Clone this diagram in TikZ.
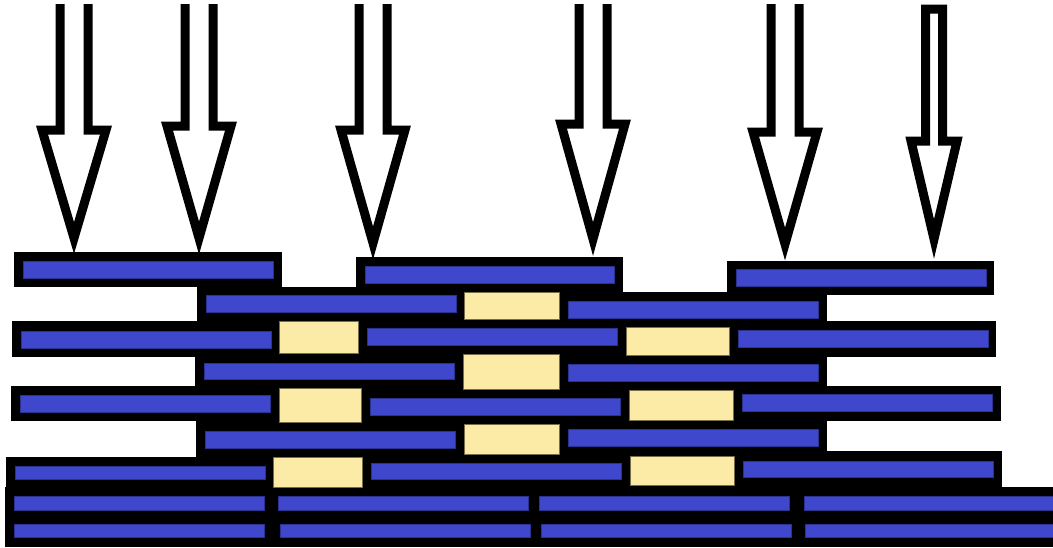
\documentclass[tikz,border=0pt]{standalone}
\usepackage{tikz}
\definecolor{barblue}{RGB}{63,72,204}
\definecolor{padyellow}{RGB}{252,235,166}
\definecolor{padedge}{RGB}{120,110,70}

\begin{document}
\begin{tikzpicture}[
  x=0.75pt, y=-0.75pt,
  frame/.style={fill=black},
  bar/.style={fill=barblue, draw=barblue!70!black, line width=0.3pt},
  pad/.style={fill=padyellow, draw=padedge, line width=0.4pt},
  hollow/.style={draw=black, line width=6.75pt, fill=white, line join=miter}
]
  \useasboundingbox (0,0) rectangle (1053,547);

  % black layers
  \fill[frame] (14,252) rectangle (282,287);
  \fill[frame] (356,257) rectangle (623,292);
  \fill[frame] (727,261) rectangle (994,295);
  \fill[frame] (197,287) rectangle (623,321);
  \fill[frame] (623,292) rectangle (827,321);
  \fill[frame] (12,321) rectangle (996,357);
  \fill[frame] (195,357) rectangle (827,386);
  \fill[frame] (11,386) rectangle (1001,421);
  \fill[frame] (196,421) rectangle (827,457);
  \fill[frame] (827,451) rectangle (1002,457);
  \fill[frame] (6,457) rectangle (1002,487);
  \fill[frame] (5,487) rectangle (1053,547);

  % blue bars
  \foreach \xa/\ya/\xb/\yb in {
      23/261/273/278, 365/266/614/283, 736/269/986/286,
      206/295/456/312, 568/301/818/318,
      21/331/271/348, 367/328/617/345, 738/330/988/347,
      204/363/454/379, 568/364/818/381,
      20/395/270/412, 370/398/620/415, 742/394/992/411,
      205/431/455/448, 568/429/818/446,
      15/466/265/479, 371/463/621/479, 743/461/993/477,
      14/496/264/510, 278/496/528/510, 539/496/789/510, 804/496/1053/510,
      14/524/264/537, 280/524/530/537, 541/524/791/537, 805/524/1053/537}
    \draw[bar] (\xa,\ya) rectangle (\xb,\yb);

  % yellow spacers
  \foreach \xa/\ya/\xb/\yb in {
      464/292/559/319,
      279/321/358/353, 626/327/729/355,
      463/354/559/389,
      279/388/361/422, 629/390/733/420,
      464/424/559/454,
      273/457/362/487, 630/456/734/485}
    \draw[pad] (\xa,\ya) rectangle (\xb,\yb);

  % incoming arrows
  \foreach \cx/\sy/\ty in {74/130/238, 199/126/238, 373/130/243, 593/124/239, 785/132/244}
    \draw[hollow] ({\cx-14},4) -- ({\cx-14},\sy) -- ({\cx-32},\sy) -- (\cx,\ty)
      -- ({\cx+32},\sy) -- ({\cx+14},\sy) -- ({\cx+14},4);
  \draw[hollow] (925.5,9) -- (925.5,141) -- (911,141) -- (934,239)
    -- (957,141) -- (942.5,141) -- (942.5,9) -- cycle;
\end{tikzpicture}
\end{document}
